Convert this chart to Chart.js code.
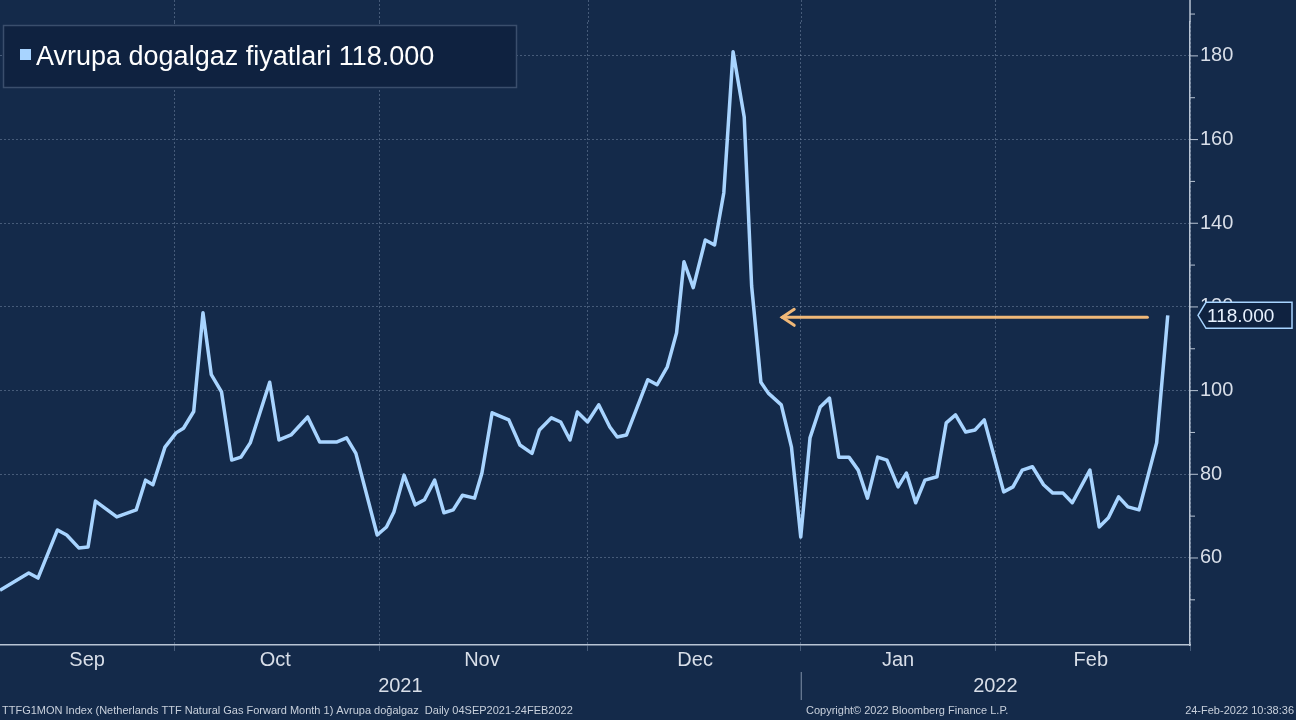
<!DOCTYPE html>
<html><head><meta charset="utf-8">
<script src="https://cdn.jsdelivr.net/npm/chart.js@4"></script>
<style>html,body{margin:0;padding:0;background:#142a4a;}#c{display:block;}</style>
</head><body>
<div style="width:1296px;height:720px;position:relative"><canvas id="c"></canvas></div>
<script>
// trading-day index since 04 Sep 2021
const days = [0,3.1,4.1,6.2,7.2,8.5,9.5,10.3,12.6,14.7,15.7,16.5,17.8,19.0,19.8,20.9,21.9,22.8,23.9,25.0,26.0,27.0,29.1,30.1,31.4,33.2,34.5,36.3,37.4,38.4,40.7,41.7,42.5,43.6,44.8,45.8,46.9,47.9,48.9,49.9,51.2,52.0,53.1,54.9,56.1,57.4,58.2,59.5,60.5,61.5,62.3,63.4,64.6,
65.8,66.6,67.6,69.9,70.9,72.0,73.0,73.8,74.8,76.1,77.1,78.1,79.1,80.3,81.1,82.1,82.9,84.3,85.4,86.4,87.4,88.5,89.5,90.5,91.6,92.6,93.6,94.7,95.7,96.9,97.8,98.8,99.8,101.1,102.1,103.1,104.2,105.2,106.2,108.3,109.3,110.3,111.4,112.6,113.6,114.7,115.7,117.6,118.6,119.6,120.7,121.7,122.9,124.8,126.0];
const prices = [52.3,56.4,55.2,66.7,65.5,62.4,62.6,73.6,69.8,71.5,78.6,77.5,86.5,89.9,91,95,118.6,103.8,99.7,83.4,84.1,87.5,102,88.2,89.4,93.7,87.7,87.7,88.7,85,65.5,67.4,71,79.8,72.7,73.9,78.6,70.8,71.5,75,74.3,80.3,94.7,93,87,85,90.6,93.5,92.5,88.2,94.9,92.5,96.6,
91.3,88.9,89.4,102.6,101.4,105.7,113.8,130.8,124.6,136,134.8,147.3,181,165.4,125,102,99.4,96.6,86.5,65,88.7,96.1,98.2,84.1,84.1,81,74.3,84.1,83.4,77,80.3,73.2,78.6,79.4,92.3,94.2,90.1,90.6,93,75.8,77,81,81.8,77.5,75.5,75.5,73.2,81,67.4,69.6,74.6,72.2,71.5,87.5,118];
const monthBounds = [18.8,40.9,63.4,86.4,107.4,128.4];
const monthNames = ['Sep','Oct','Nov','Dec','Jan','Feb'];
const monthCenters = [9.4,29.7,52.0,75.0,96.9,117.7];
const years = ['2021','2022'];
const yearCenters = [43.2,107.4];
const yTicks = [60,80,100,120,140,160,180];
const seriesName = 'Avrupa dogalgaz fiyatlari';
const lastValue = 118;

const FONT = '"Liberation Sans", Arial, sans-serif';
const overlay = {
  id:'overlay',
  beforeDraw(ch){const c=ch.ctx;c.save();c.fillStyle='#142a4a';c.fillRect(0,0,ch.width,ch.height);c.restore();},
  beforeDatasetsDraw(ch){
    // extend vertical grid and right axis to the top edge
    const c=ch.ctx,x=ch.scales.x,y=ch.scales.y;c.save();
    c.strokeStyle='rgba(130,150,180,0.45)';c.lineWidth=1;c.setLineDash([2,2]);
    monthBounds.slice(0,-1).forEach(v=>{const px=Math.round(x.getPixelForValue(v))+0.5;c.beginPath();c.moveTo(px,0);c.lineTo(px,y.top);c.stroke();});
    c.setLineDash([]);c.strokeStyle='#b8c4d4';c.lineWidth=1.5;c.beginPath();c.moveTo(x.right,0);c.lineTo(x.right,y.top);c.stroke();
    c.restore();
  },
  afterDraw(ch){
    const c=ch.ctx,x=ch.scales.x,y=ch.scales.y;
    c.save();
    c.strokeStyle='#b8c4d4';c.lineWidth=1;
    for(let v=50;v<=190;v+=10){const py=y.getPixelForValue(v);c.beginPath();c.moveTo(x.right,py);c.lineTo(x.right+(v%20===0?8:5),py);c.stroke();}
    c.fillStyle='#d8dee8';c.font='20px '+FONT;c.textAlign='center';c.textBaseline='middle';
    monthNames.forEach((m,i)=>c.fillText(m,x.getPixelForValue(monthCenters[i]),660));
    years.forEach((m,i)=>c.fillText(m,x.getPixelForValue(yearCenters[i]),686));
    c.strokeStyle='#8090a8';c.beginPath();c.moveTo(x.getPixelForValue(86.4)+0.5,672);c.lineTo(x.getPixelForValue(86.4)+0.5,700);c.stroke();
    c.font='11px '+FONT;c.textAlign='left';c.fillStyle='#c8d0dc';
    c.fillText('TTFG1MON Index (Netherlands TTF Natural Gas Forward Month 1) Avrupa doğalgaz  Daily 04SEP2021-24FEB2022',2,711);
    c.fillText('Copyright© 2022 Bloomberg Finance L.P.',806,711);
    c.textAlign='right';c.fillText('24-Feb-2022 10:38:36',1294,711);
    c.fillStyle='#0f2240';c.fillRect(3,25,514,63);c.strokeStyle='#3a4e6c';c.lineWidth=1.5;c.strokeRect(3.5,25.5,513,62);
    c.fillStyle='#a8d4ff';c.fillRect(20,49,11,11);
    c.fillStyle='#ffffff';c.font='27px '+FONT;c.textAlign='left';
    c.fillText(seriesName+' '+lastValue.toFixed(3),36,58);
    const ay=y.getPixelForValue(lastValue)+2;
    const x1=x.getPixelForValue(123.8),x0=x.getPixelForValue(84.4);
    c.strokeStyle='#f0b878';c.lineWidth=3;c.lineCap='round';
    c.beginPath();c.moveTo(x1,ay);c.lineTo(x0,ay);c.stroke();
    c.beginPath();c.moveTo(x0+12,ay-8);c.lineTo(x0,ay);c.lineTo(x0+12,ay+8);c.stroke();
    const ty=y.getPixelForValue(lastValue);
    c.fillStyle='#0f2240';c.strokeStyle='#a8d4ff';c.lineWidth=1.5;
    c.beginPath();c.moveTo(x.right+8,ty);c.lineTo(x.right+16,ty-13);c.lineTo(1292,ty-13);c.lineTo(1292,ty+13);c.lineTo(x.right+16,ty+13);c.closePath();c.fill();c.stroke();
    c.fillStyle='#e8f2ff';c.font='19px '+FONT;c.textAlign='left';c.textBaseline='middle';
    c.fillText(lastValue.toFixed(3),x.right+17,ty+1);
    c.restore();
  }
};

new Chart(document.getElementById('c'),{
  type:'line',
  data:{datasets:[{data:days.map((d,i)=>({x:d,y:prices[i]})),borderColor:'#a8d4ff',borderWidth:3.5,pointRadius:0,tension:0,borderJoinStyle:'round'}]},
  options:{
    responsive:true,maintainAspectRatio:false,animation:false,
    layout:{padding:0},
    plugins:{legend:{display:false},tooltip:{enabled:false}},
    scales:{
      x:{type:'linear',min:0,max:128.4,
        afterBuildTicks:s=>{s.ticks=monthBounds.map(v=>({value:v}));},
        afterFit:s=>{s.height=75;},
        ticks:{callback:()=>'',maxRotation:0},
        grid:{color:'rgba(130,150,180,0.45)',lineWidth:1,tickLength:6,drawTicks:true},
        border:{display:true,color:'#b8c4d4',width:1.5,dash:[2,2]}
      },
      y:{position:'right',min:39.2,max:188.1,
        afterBuildTicks:s=>{s.ticks=yTicks.map(v=>({value:v}));},
        afterFit:s=>{s.width=106;},
        ticks:{color:'#d8dee8',font:{size:20,family:FONT},padding:10,callback:v=>v},
        grid:{color:'rgba(130,150,180,0.45)',lineWidth:1,drawTicks:false},
        border:{display:true,color:'#b8c4d4',width:1.5,dash:[2,2]}
      }
    }
  },
  plugins:[overlay]
});
</script>
</body></html>
